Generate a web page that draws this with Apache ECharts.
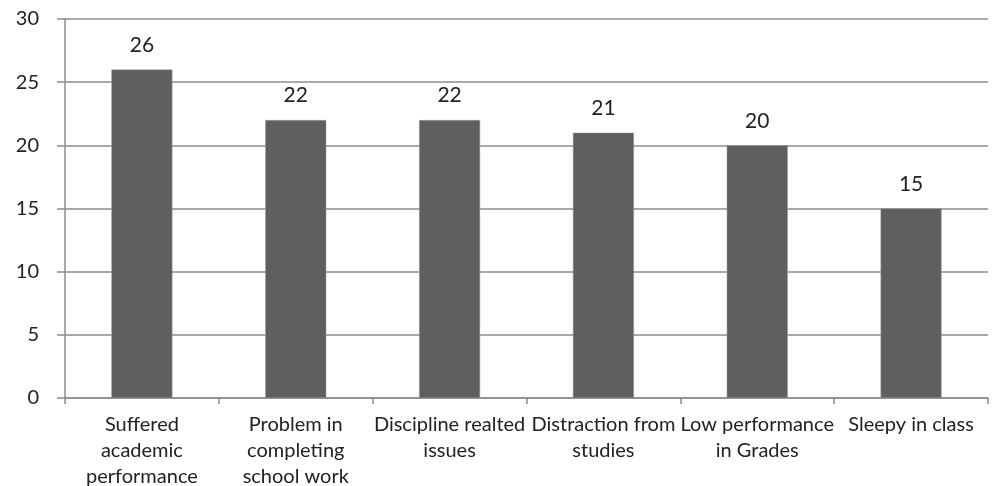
<!DOCTYPE html>
<html>
<head>
<meta charset="utf-8">
<script src="https://cdn.jsdelivr.net/npm/echarts@6/dist/echarts.min.js"></script>
<style>
  html, body { margin: 0; padding: 0; background: #fff; }
  #chart { width: 993px; height: 486px; }
</style>
</head>
<body>
<div id="chart"></div>
<script>
// Effects on students: counts per category
const categories = [
  "Suffered\nacademic\nperformance",
  "Problem in\ncompleting\nschool work",
  "Discipline realted\nissues",
  "Distraction from\nstudies",
  "Low performance\nin Grades",
  "Sleepy in class"
];
const values = [26, 22, 22, 21, 20, 15];
const yTicks = { min: 0, max: 30, interval: 5 };

const axisGray = "#8c8c8c";
const fontFamily = "Lato, 'Open Sans', sans-serif";

const chart = echarts.init(document.getElementById("chart"), null, { renderer: "canvas" });
chart.setOption({
  animation: false,
  backgroundColor: "#ffffff",
  grid: { left: 65, right: 5, top: 19, bottom: 88, containLabel: false, outerBoundsMode: "none" },
  xAxis: {
    type: "category",
    data: categories,
    boundaryGap: true,
    axisLine: { lineStyle: { color: axisGray, width: 1.5 } },
    axisTick: { show: true, alignWithLabel: false, length: 6, lineStyle: { color: axisGray, width: 1.5 } },
    axisLabel: {
      color: "#222",
      fontFamily: fontFamily,
      fontSize: 20,
      lineHeight: 26,
      margin: 14,
      interval: 0
    }
  },
  yAxis: {
    type: "value",
    min: yTicks.min,
    max: yTicks.max,
    interval: yTicks.interval,
    axisLine: { show: true, lineStyle: { color: axisGray, width: 1.5 } },
    axisTick: { show: true, length: 8, lineStyle: { color: axisGray, width: 1.5 } },
    splitLine: { show: true, lineStyle: { color: axisGray, width: 1.5 } },
    axisLabel: {
      color: "#222",
      fontFamily: fontFamily,
      fontSize: 20,
      margin: 26
    }
  },
  series: [{
    type: "bar",
    data: values,
    barWidth: 61,
    itemStyle: { color: "#5f5f5f", borderColor: "#9a9a9a", borderWidth: 0.5 },
    label: {
      show: true,
      position: "top",
      distance: 14,
      color: "#222",
      fontFamily: fontFamily,
      fontSize: 21
    }
  }]
});
</script>
</body>
</html>
